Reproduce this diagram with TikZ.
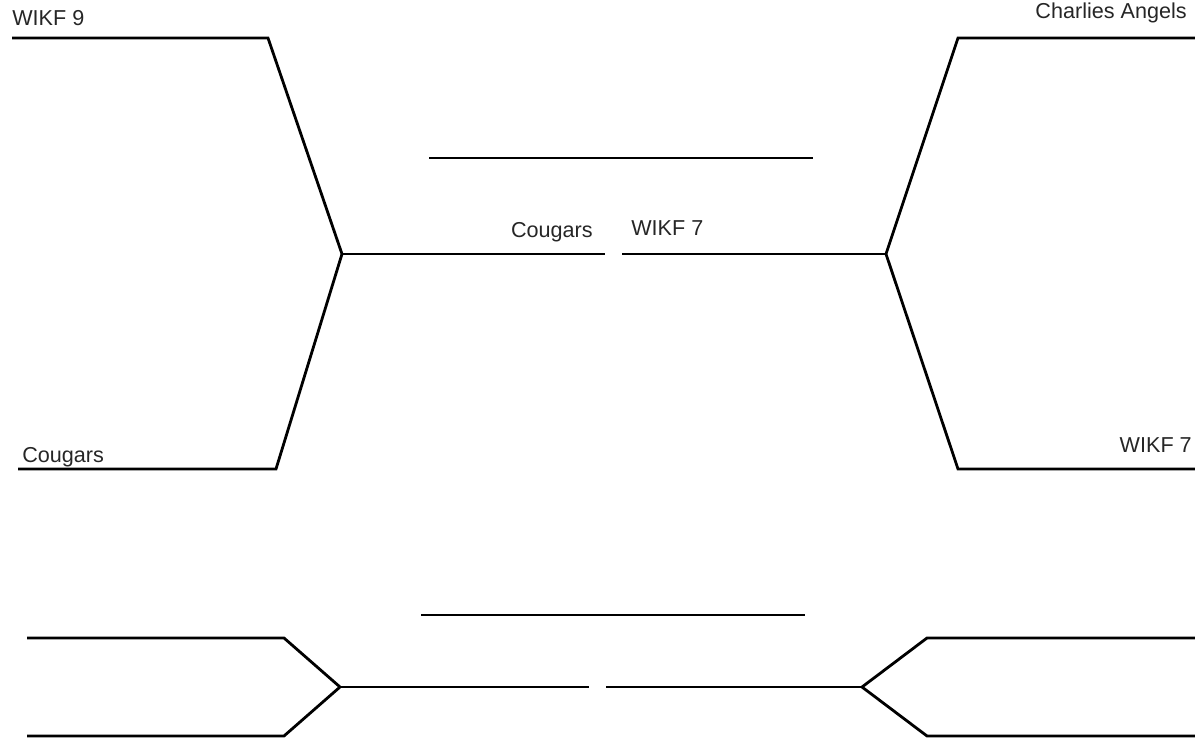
\documentclass[tikz,border=0pt]{standalone}
\usepackage{fontspec}
\setmainfont{Liberation Sans}
\begin{document}
\begin{tikzpicture}[x=0.75pt,y=-0.75pt,
  bline/.style={line width=2.1pt, line join=miter},
  lbl/.style={font=\fontsize{16.2}{19}\selectfont, inner sep=0pt, text=black!85}]
\useasboundingbox (0,0) rectangle (1195,738);
% top-left bracket
\coordinate (tl1) at (12,38);
\coordinate (tl2) at (268,38);
\coordinate (lv) at (342,254);
\coordinate (lm) at (605,254);
\coordinate (bl2) at (276,469);
\coordinate (bl1) at (18,469);
\draw[bline] (tl1) -- (tl2) -- (lv) -- (bl2) -- (bl1);
\draw[bline] (lv) -- (lm);
% top-right bracket
\coordinate (tr1) at (1195,38);
\coordinate (tr2) at (958,38);
\coordinate (rv) at (886,254);
\coordinate (rm) at (622,254);
\coordinate (br2) at (958,469);
\coordinate (br1) at (1195,469);
\draw[bline] (tr1) -- (tr2) -- (rv) -- (br2) -- (br1);
\draw[bline] (rv) -- (rm);
% champion line
\coordinate (c1) at (429,158);
\coordinate (c2) at (813,158);
\draw[bline] (c1) -- (c2);
% bottom line
\coordinate (d1) at (421,615);
\coordinate (d2) at (805,615);
\draw[bline] (d1) -- (d2);
% bottom-left bracket
\coordinate (ql1) at (27,638);
\coordinate (ql2) at (284,638);
\coordinate (qlv) at (340,687);
\coordinate (qlm) at (589,687);
\coordinate (qb2) at (284,736);
\coordinate (qb1) at (27,736);
\draw[bline] (ql1) -- (ql2) -- (qlv) -- (qb2) -- (qb1);
\draw[bline] (qlv) -- (qlm);
% bottom-right bracket
\coordinate (qr1) at (1195,638);
\coordinate (qr2) at (927,638);
\coordinate (qrv) at (862,687);
\coordinate (qrm) at (606,687);
\coordinate (qrb2) at (927,736);
\coordinate (qrb1) at (1195,736);
\draw[bline] (qr1) -- (qr2) -- (qrv) -- (qrb2) -- (qrb1);
\draw[bline] (qrv) -- (qrm);
% labels
\node[lbl, anchor=base west] (t1) at (12,26) {WIKF 9};
\node[lbl, anchor=base east] (t2) at (1187,19) {Charlies Angels};
\node[lbl, anchor=base east] (t3) at (593,237) {Cougars};
\node[lbl, anchor=base west] (t4) at (631,235) {WIKF 7};
\node[lbl, anchor=base west] (t5) at (22,462) {Cougars};
\node[lbl, anchor=base east] (t6) at (1192,452) {WIKF 7};
\end{tikzpicture}
\end{document}
